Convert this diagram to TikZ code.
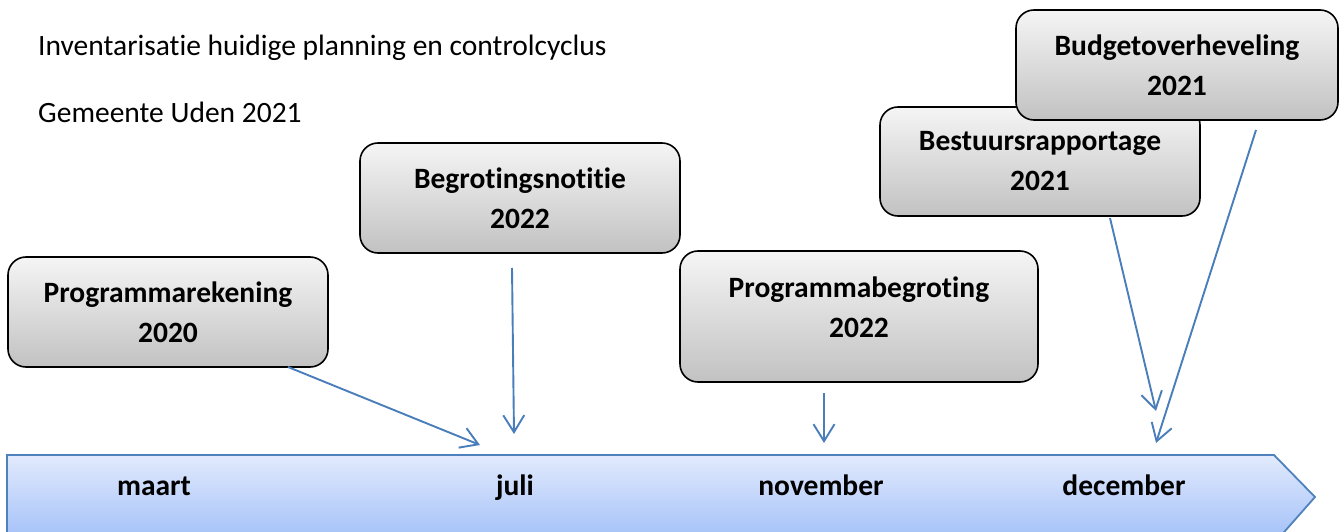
\documentclass[tikz,border=0pt]{standalone}
\usepackage{fontspec}
\setmainfont[Ligatures={NoCommon}]{Carlito}
\usetikzlibrary{arrows.meta}
\definecolor{conn}{HTML}{4A7EBB}
\definecolor{tlborder}{HTML}{4F81BD}
\definecolor{tltop}{HTML}{E2EAFD}
\definecolor{tlbot}{HTML}{A3C1F8}
\tikzset{
  box/.style={draw=black, line width=1.6pt, rounded corners=18pt, top color=gray!8, bottom color=gray!48,
    align=center, font=\fontsize{29.5}{40}\selectfont\bfseries, inner sep=0pt},
  conn/.style={draw=conn, line width=1.9pt, -{Straight Barb[length=17pt,width=21pt,line width=1.9pt]}},
  month/.style={font=\fontsize{29.5}{34}\selectfont\bfseries, anchor=base, inner sep=0pt},
  plain/.style={font=\fontsize{29.5}{34}\selectfont, anchor=base west, inner sep=0pt}
}
\begin{document}
\begin{tikzpicture}[x=1pt,y=-1pt]
\useasboundingbox (0,0) rectangle (1342,532);
% timeline arrow
\path[top color=tltop, bottom color=tlbot, draw=tlborder, line width=1.8pt]
  (7,455) -- (1274,455) -- (1315,497) -- (1278,539) -- (7,539) -- cycle;
\node[month] (maart) at (154,495) {maart};
\node[month] (juli) at (515,495) {juli};
\node[month] (nov) at (821,495) {november};
\node[month] (dec) at (1124,495) {december};
% titles
\node[plain] (t1) at (38,56) {Inventarisatie huidige planning en controlcyclus};
\node[plain] (t2) at (38,123) {Gemeente Uden 2021};
% boxes
\node[box, minimum width=320pt, minimum height=110pt] (prek) at (168,312) {Programmarekening\\2020};
\node[box, minimum width=320pt, minimum height=110pt] (bnot) at (520,198) {Begrotingsnotitie\\2022};
\node[box, minimum width=358pt, minimum height=131pt, text depth=18pt] (pbeg) at (859,316.5) {Programmabegroting\\2022};
\node[box, minimum width=320pt, minimum height=109pt] (bera) at (1040,161.5) {Bestuursrapportage\\2021};
\node[box, minimum width=322pt, minimum height=110pt] (budg) at (1177,65) {Budgetoverheveling\\2021};
% connector endpoints
\coordinate (s1) at (288,367); \coordinate (e1) at (480,445);
\coordinate (s2) at (512,268); \coordinate (e2) at (514,434);
\coordinate (s3) at (824,393); \coordinate (e3) at (824,443);
\coordinate (s4) at (1110,218); \coordinate (e4) at (1156,411);
\coordinate (s5) at (1256,130); \coordinate (e5) at (1156,443);
\draw[conn] (s1) -- (e1);
\draw[conn] (s2) -- (e2);
\draw[conn] (s3) -- (e3);
\draw[conn] (s4) -- (e4);
\draw[conn] (s5) -- (e5);
\end{tikzpicture}
\end{document}
